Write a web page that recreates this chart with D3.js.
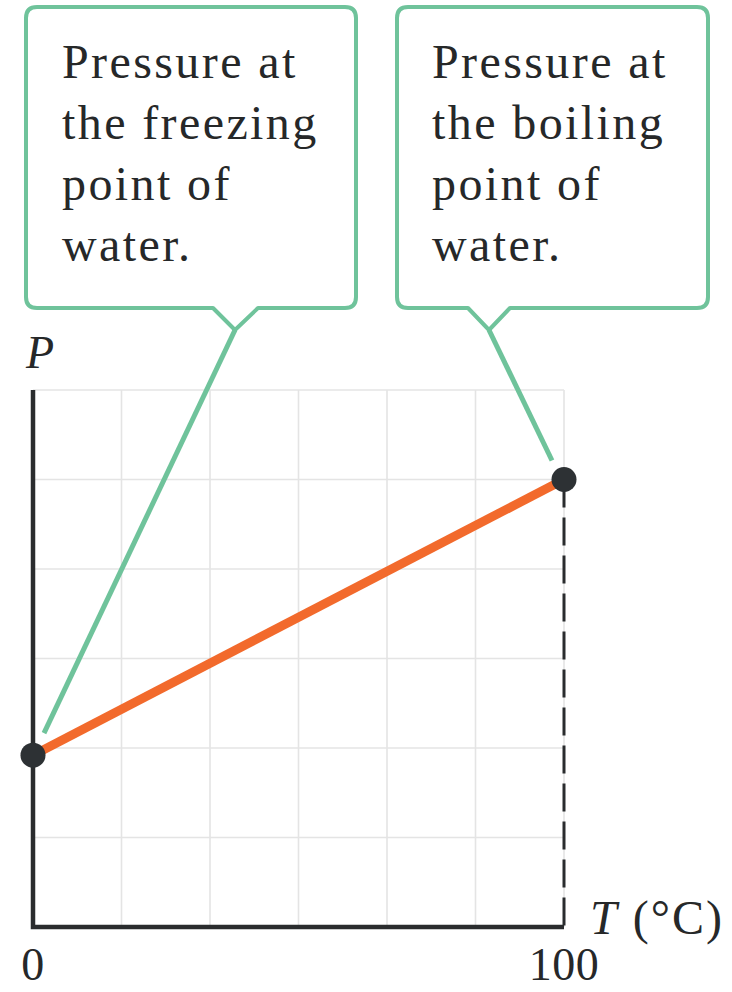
<!DOCTYPE html>
<html>
<head>
<meta charset="utf-8">
<script src="https://cdn.jsdelivr.net/npm/d3@7"></script>
<style>
  html, body { margin: 0; padding: 0; background: #fff; }
  svg { display: block; }
  text { font-family: "Liberation Serif", "DejaVu Serif", serif; fill: #262829; }
</style>
</head>
<body>
<svg id="chart" width="732" height="992"></svg>
<script>
// Constant-volume gas thermometer: pressure rises linearly with temperature
const temperatures = [0, 100];          // °C
const pressures = [1.92, 5.0];          // arbitrary pressure units (axis unlabelled)
const tempTicks = [0, 100];
const tempTickLabels = ["0", "100"];
const calloutTexts = [
  ["Pressure at", "the freezing", "point of", "water."],
  ["Pressure at", "the boiling", "point of", "water."]
];

const svg = d3.select("#chart");
const green = "#6fc39b";
const ink = "#2a2c2e";

const x = d3.scaleLinear().domain([0, 100]).range([33, 564]);
const y = d3.scaleLinear().domain([0, 6]).range([927, 390]);

// light grid
const grid = svg.append("g").attr("stroke", "#e4e4e4").attr("stroke-width", 1.6);
grid.selectAll("line.v").data(d3.range(1, 7).map(i => i * 100 / 6)).join("line")
  .attr("x1", d => x(d)).attr("x2", d => x(d))
  .attr("y1", y(0)).attr("y2", y(6));
grid.selectAll("line.h").data(d3.range(1, 7)).join("line")
  .attr("x1", x(0)).attr("x2", x(100))
  .attr("y1", d => y(d)).attr("y2", d => y(d));

// dashed drop line at the boiling point
svg.append("line")
  .attr("x1", x(temperatures[1])).attr("x2", x(temperatures[1]))
  .attr("y1", y(pressures[1])).attr("y2", y(0))
  .attr("stroke", ink).attr("stroke-width", 3)
  .attr("stroke-dasharray", "28 10");

// axes
svg.append("path")
  .attr("d", `M${x(0)},${y(6)} V${y(0)} H${x(100)}`)
  .attr("fill", "none").attr("stroke", ink).attr("stroke-width", 4.5)
  .attr("stroke-linejoin", "miter");

// tick labels
svg.selectAll("text.tick").data(tempTicks).join("text")
  .attr("class", "tick")
  .attr("x", d => x(d)).attr("y", 980)
  .attr("text-anchor", "middle")
  .attr("font-size", 46)
  .attr("letter-spacing", 0.5)
  .text((d, i) => tempTickLabels[i]);

// axis titles
svg.append("text").attr("x", 26).attr("y", 368)
  .attr("font-size", 46).attr("font-style", "italic").text("P");
const tLabel = svg.append("text").attr("x", 590).attr("y", 934)
  .attr("font-size", 48).attr("letter-spacing", 2);
tLabel.append("tspan").attr("font-style", "italic").text("T");
tLabel.append("tspan").text(" (°C)");

// pressure line
const pts = temperatures.map((t, i) => [x(t), y(pressures[i])]);
svg.append("path")
  .attr("d", d3.line()(pts))
  .attr("stroke", "#f26a2c").attr("stroke-width", 9).attr("fill", "none");

// callout boxes with pointer notch
const boxes = [
  { x0: 26, x1: 356, y0: 7, y1: 308, n0: 213, n1: 258, tip: [235, 330], tx: 62, off: [11, -22] },
  { x0: 397, x1: 708, y0: 7, y1: 308, n0: 468, n1: 510, tip: [489, 330], tx: 432, off: [-12, -19] }
];
const r = 11;
boxes.forEach((b, i) => {
  const d = `M${b.x0 + r},${b.y0} H${b.x1 - r} Q${b.x1},${b.y0} ${b.x1},${b.y0 + r}
    V${b.y1 - r} Q${b.x1},${b.y1} ${b.x1 - r},${b.y1}
    H${b.n1} L${b.tip[0]},${b.tip[1]} L${b.n0},${b.y1}
    H${b.x0 + r} Q${b.x0},${b.y1} ${b.x0},${b.y1 - r}
    V${b.y0 + r} Q${b.x0},${b.y0} ${b.x0 + r},${b.y0} Z`;
  svg.append("path").attr("d", d)
    .attr("fill", "#fff").attr("stroke", green).attr("stroke-width", 4)
    .attr("stroke-linejoin", "round");
  // leader line to the data point
  svg.append("line")
    .attr("x1", b.tip[0]).attr("y1", b.tip[1])
    .attr("x2", pts[i][0] + b.off[0]).attr("y2", pts[i][1] + b.off[1])
    .attr("stroke", green).attr("stroke-width", 5);
  svg.append("text")
    .attr("font-size", 48)
    .attr("letter-spacing", 2.4)
    .selectAll("tspan").data(calloutTexts[i]).join("tspan")
    .attr("x", b.tx).attr("y", (d, j) => 78 + j * 61)
    .text(d => d);
});

// data points
svg.selectAll("circle.pt").data(pts).join("circle")
  .attr("class", "pt")
  .attr("cx", d => d[0]).attr("cy", d => d[1]).attr("r", 12.5)
  .attr("fill", "#2d3134");
</script>
</body>
</html>
